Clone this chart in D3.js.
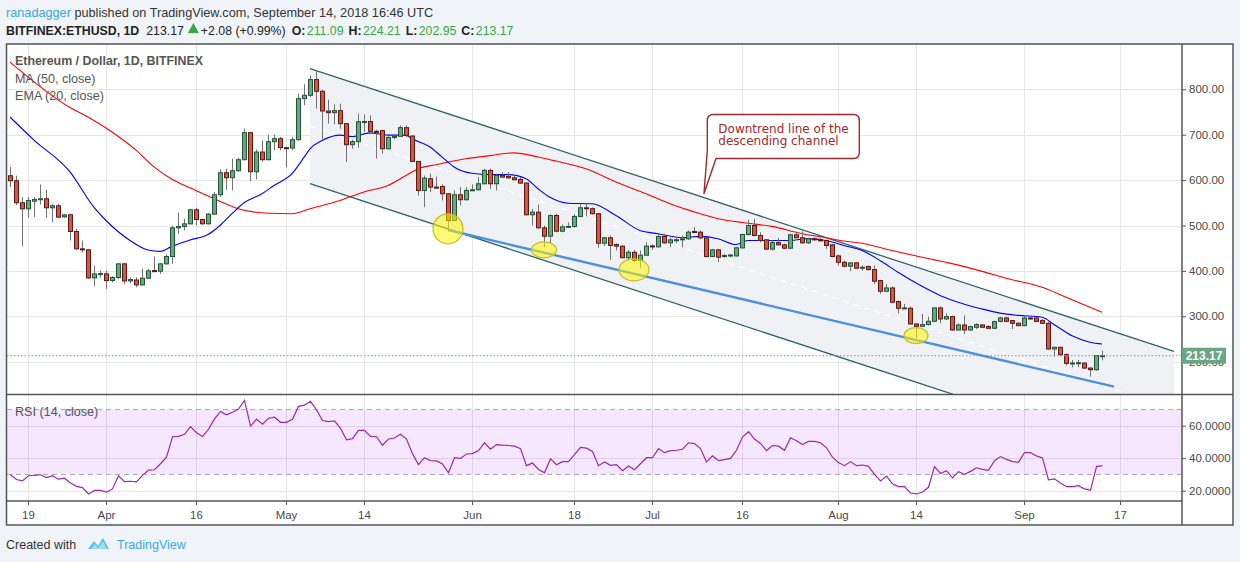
<!DOCTYPE html>
<html><head><meta charset="utf-8">
<script src="https://cdn.jsdelivr.net/npm/d3@7"></script>
<style>
html,body{margin:0;padding:0;background:#f0f3f7;}
svg{display:block;font-family:"Liberation Sans",Arial,sans-serif;}
</style></head><body>
<svg id="c" width="1240" height="562"></svg>
<script>
// ---------------- DATA ----------------
const startDate = "2018-03-16";
const opens = [609.6,598.6,550.1,536.8,553.5,556.7,558.9,539.0,543.4,519.0,523.6,486.8,448.6,446.4,384.6,392.0,393.5,378.8,385.4,415.5,378.0,380.0,369.2,383.9,400.6,399.3,415.5,431.7,494.9,497.9,503.7,534.6,513.3,503.7,525.0,567.7,616.2,605.2,620.6,644.9,704.5,618.4,661.8,644.9,684.6,691.2,671.4,670.7,689.0,779.4,786.8,821.4,795.6,752.2,748.6,753.0,724.3,678.0,684.6,728.7,729.0,707.4,708.9,669.1,694.1,696.4,715.5,697.1,641.2,577.2,603.0,584.6,586.0,569.9,511.0,567.7,556.7,577.2,578.7,591.9,621.4,591.9,610.3,608.0,605.0,601.5,593.4,523.6,529.4,494.9,476.5,522.0,487.5,497.0,497.8,520.0,539.0,537.0,526.0,461.0,473.0,458.0,454.5,429.0,441.0,423.0,434.6,455.0,453.0,475.8,461.8,468.0,468.4,470.6,486.8,485.3,472.8,431.7,446.4,431.7,433.0,433.0,450.8,480.2,500.0,478.0,468.4,447.9,462.5,457.4,450.0,479.5,473.0,461.8,470.6,468.4,467.0,457.4,433.0,419.0,410.3,417.7,406.0,409.6,403.0,378.8,355.2,362.5,332.4,317.7,317.7,283.1,278.0,281.7,289.0,318.5,294.2,299.3,269.9,280.9,269.9,275.8,280.9,277.3,273.6,289.0,296.4,290.5,284.6,279.5,296.4,296.4,290.5,284.6,228.0,231.7,215.5,197.0,197.0,197.0,186.0,182.4,211.09];
const highs = [628.8,609.6,562.6,562.6,562.6,590.5,578.7,547.9,547.9,525.8,525.8,492.7,467.0,448.6,411.8,400.8,400.8,388.3,417.0,417.7,386.0,386.0,404.5,404.5,431.7,417.0,435.4,500.0,528.0,514.8,536.8,539.0,514.8,527.3,573.6,623.6,625.0,647.1,649.3,713.3,706.0,667.0,687.6,700.0,700.0,695.0,672.8,695.0,790.5,811.0,830.0,842.0,799.3,777.2,766.9,768.4,725.8,689.0,746.3,744.9,742.7,711.0,711.0,696.4,700.0,720.6,720.6,698.6,642.0,610.0,614.0,608.0,590.5,571.0,577.2,584.6,584.6,590.5,606.6,625.0,625.0,614.0,617.7,617.7,610.0,606.6,594.9,536.8,546.4,500.0,524.3,525.8,502.0,507.0,525.0,549.0,549.0,540.0,527.0,475.0,478.0,461.0,457.0,446.0,446.0,445.0,463.0,458.0,481.7,481.7,473.0,474.3,478.0,489.0,496.4,489.0,473.0,448.6,448.6,437.0,437.0,452.3,481.7,512.6,514.8,485.3,470.0,467.0,472.8,460.0,481.7,485.3,486.8,473.0,474.0,472.8,468.4,459.0,436.0,422.8,419.0,419.0,412.0,412.0,412.0,380.2,371.4,365.5,334.6,327.3,321.4,284.6,305.2,299.3,319.9,321.4,306.7,301.5,284.6,301.5,279.5,284.6,283.0,280.0,290.5,299.3,299.3,292.0,286.8,301.5,297.8,299.3,294.0,286.8,233.2,233.2,218.4,203.7,203.7,198.6,187.5,214.8,224.21];
const lows = [584.6,544.9,454.5,517.0,518.5,546.4,517.0,507.4,516.2,517.0,467.0,446.4,441.2,382.4,366.2,385.0,360.3,375.0,382.4,371.4,372.9,364.0,367.0,382.0,399.0,393.5,414.0,415.5,481.7,489.0,502.3,500.0,502.3,502.3,523.6,562.6,578.7,577.3,618.0,643.5,597.9,601.5,641.0,643.5,665.5,665.5,628.8,665.5,687.0,765.0,783.0,757.4,689.0,724.3,722.8,713.3,639.7,669.0,671.4,705.9,700.8,647.0,658.0,666.9,690.0,694.9,694.0,639.7,566.0,540.5,573.6,581.0,555.0,492.7,509.0,544.0,555.2,575.8,577.2,590.5,580.9,577.2,605.0,603.0,599.3,592.0,522.0,500.0,492.7,452.0,461.0,485.0,485.0,496.0,495.0,518.0,520.0,524.0,451.0,455.0,424.0,445.0,428.0,423.0,419.0,406.7,434.0,446.0,452.0,459.6,452.0,461.0,452.0,468.4,483.0,470.0,430.0,430.0,419.0,429.0,430.0,431.7,448.6,478.0,476.0,463.0,446.0,445.0,456.0,447.9,448.6,472.0,459.6,459.6,466.0,465.0,448.6,430.0,411.8,408.0,399.3,404.0,400.0,400.8,371.4,349.3,353.0,328.7,306.7,316.2,281.7,252.2,277.3,280.0,286.8,284.6,292.0,268.4,268.4,261.0,268.4,272.0,274.3,272.0,272.0,286.8,286.8,272.0,278.0,278.0,292.0,286.8,283.0,226.5,211.0,213.3,191.2,187.5,187.5,183.9,167.0,180.2,202.95];
const closes = [598.6,550.1,536.8,555.2,557.4,558.9,539.0,543.4,518.4,523.4,486.8,448.6,446.4,384.6,393.5,394.0,378.8,385.4,415.5,378.0,381.0,369.2,383.9,400.0,399.5,415.5,431.7,494.9,497.9,503.7,534.6,513.3,503.7,525.0,567.7,616.2,605.2,620.6,644.9,704.5,618.4,661.8,644.9,684.6,691.2,671.4,670.0,689.0,779.4,786.8,821.4,795.6,752.2,748.6,753.0,724.3,678.0,684.6,728.7,729.0,707.4,707.0,669.1,694.1,696.4,715.5,698.6,641.2,577.2,604.4,584.6,584.0,569.9,511.0,567.7,556.7,577.2,578.7,591.9,621.4,591.9,610.3,606.6,605.0,600.8,593.4,523.6,529.4,494.9,476.5,522.0,487.5,497.0,498.0,520.0,539.0,537.0,526.0,461.0,473.0,456.0,454.5,429.0,441.0,423.0,434.6,454.5,453.0,475.8,461.8,468.4,468.7,470.6,485.3,485.3,472.8,431.7,446.4,430.2,434.0,435.0,450.8,480.2,500.0,478.0,467.0,447.9,462.5,457.4,450.0,479.5,473.0,461.8,470.6,468.4,467.0,456.0,431.7,419.0,410.3,417.7,406.0,408.0,403.0,377.3,355.2,362.5,331.0,317.7,318.5,283.1,278.0,281.7,289.0,318.5,294.2,299.3,269.9,280.9,269.9,277.3,281.7,275.8,273.6,288.3,296.4,289.0,284.6,279.5,296.4,294.2,289.0,284.6,228.0,231.7,215.5,196.4,197.2,197.7,186.0,182.4,213.3,213.17];
const rsiValues = [29.8,26.9,26,29.2,29.4,29.8,28.1,29.2,27.1,27.7,24.8,22.7,21.9,18,20.2,20.2,19.2,21.1,29.2,25.6,25.8,25.4,29.4,32.7,32.9,36.6,40.6,53.2,53.4,54.7,59.4,55.7,53.4,57.8,64.2,68.8,66.7,68.3,70.2,75.6,59.8,64,60.9,64.6,65.2,62.1,62.1,64,71.9,72.7,75,69.8,63.2,62.5,63,58.4,51.3,52,57.1,57.1,53.4,53.2,48,51.8,52.4,54.7,51.8,42.8,36,40.3,38.5,38.3,36.4,31,40.3,39.9,42.6,42.8,44.7,49.5,45.5,48.4,48,47.8,47.4,45.9,35.4,37,33.1,31,39.7,36,37.9,37.9,42.2,46.6,46.2,44.1,35.4,37.7,35.6,36,32.3,35.2,32.9,36.6,40.3,40.3,45.9,43.4,44.7,44.9,45.5,49.5,49,45.9,37.7,41.4,38.5,39.1,39.9,44.9,53,56.3,51.8,49.1,44.7,47.8,47.4,44.9,52.6,50.7,48.4,50.3,50.3,49.5,46.4,40.6,37.3,35.4,37.9,35.4,35.8,35,30,26,29,24.2,22.5,22.5,18.6,18,19.2,22.1,34.8,30.6,32.3,27.9,31.7,30,31.9,34.1,33.1,32.5,38.5,41,39.3,37.9,37.5,43.5,43.4,41.4,40.2,26.7,27.3,24.8,22.5,22.5,23.1,21.1,20.2,34.8,35.4];
// EMA(20) and MA(50) at these candle indices
const emaIdx = [0,4,10,14,16,20,23,25,27,30,33,35,37,39,42,44,47,49,50,52,55,57,60,63,66,67,70,72,74,77,80,83,86,88,90,93,97,101,105,108,112,115,118,121,123,126,130,133,136,139,142,145,148,152,155,158,162,165,168,172,174,177,180,182];
const emaValues = [739,688,618,540,511,467,446,443,454,468,480,500,526,550,570,588,614,650,669,687,699,696,704,699,699,691,673,651,629,615,612,612,603,581,562,549,548,522,489,482,473,476,471,458,467,467,467,471,467,456,445,423,397,366,346,331,316,307,302,298,282,257,243,239];
const maIdx = [0,10,13,17,21,24,27,30,34,38,43,47,50,55,59,63,66,68,71,76,80,84,88,91,96,101,106,110,114,118,123,127,132,136,139,142,147,152,157,162,166,172,176,182];
const maValues = [860,760,739,706,666,629,602,583,559,537,527,526,537,555,574,588,610,625,634,647,654,660,651,642,625,596,570,548,530,515,505,498,482,473,466,461,445,430,416,399,384,364,342,309];
const priceTicks = [200,300,400,500,600,700,800];
const rsiTicks = [20,40,60];
const rsiBand = [30,70];
const timeTickDates = ["2018-03-19","2018-04-01","2018-04-16","2018-05-01","2018-05-14","2018-06-01","2018-06-18","2018-07-01","2018-07-16","2018-08-01","2018-08-14","2018-09-01","2018-09-17"];
const timeTickLabels = ["19","Apr","16","May","14","Jun","18","Jul","16","Aug","14","Sep","17"];
// drawings (date, price)
const channelDates = ["2018-05-05","2018-09-26"];
const channelUpper = [845.7,222.5];
const channelLower = [592.0,-31.2];
const supportDates = ["2018-05-28","2018-09-16"];
const supportValues = [490,145];
const markerDates = ["2018-05-28","2018-06-13","2018-06-28","2018-08-14"];
const markerValues = [492.7,446.4,402.3,257.4];
const calloutDate = "2018-07-09T16:00:00Z";
const calloutPrice = 570.5;
const calloutLines = ["Downtrend line of the","descending channel"];
const lastPrice = 213.17;
const quote = {symbol:"BITFINEX:ETHUSD, 1D", last:"213.17", change:"+2.08 (+0.99%)", o:"211.09", h:"224.21", l:"202.95", c:"213.17"};

// ---------------- STYLE / LAYOUT ----------------
const markerRx = [15,12.5,15,12], markerRy = [15,8,11,8];
const L = 7, R = 1182, OUTR = 1233, TOP = 44, PB = 394.5, RT = 395, RB = 501, BOT = 525;
const C = {up:"#6ba583",down:"#d75442",upB:"#225437",downB:"#5b1a13",wick:"#737375",grid:"#e6e6e6",txt:"#4a4a4a"};

const svg = d3.select("#c");
const parse = s => s.length > 10 ? new Date(s) : d3.utcParse("%Y-%m-%d")(s);
const x = d3.scaleUtc().domain([parse("2018-04-01"), parse("2018-09-17")]).range([106, 1120]);
const y = d3.scaleLinear().domain([200, 800]).range([361.7, 89.3]);
const yr = d3.scaleLinear().domain([20, 60]).range([490.7, 425.7]);
const d0 = parse(startDate);
const candles = opens.map((o,i)=>({date:d3.utcDay.offset(d0,i),o,h:highs[i],l:lows[i],c:closes[i],rsi:rsiValues[i]}));

// header
const hdr = svg.append("g").attr("fill","#333");
const t1 = hdr.append("text").attr("x",6).attr("y",17).attr("font-size",12.7);
t1.append("tspan").attr("fill","#3aa8e0").text("ranadagger");
t1.append("tspan").text(" published on TradingView.com, September 14, 2018 16:46 UTC");
const g = "#35a846";
const hl = hdr.append("g").attr("font-size",12.3);
let cx = 6;
const put = (s,opt={}) => {
  const t = hl.append("text").attr("x",cx).attr("y",34.5).attr("font-weight",opt.b?"bold":null).attr("fill",opt.c||"#222").text(s);
  cx += t.node().getComputedTextLength() + (opt.gap||0);
};
put(quote.symbol,{b:1,gap:7});
put(quote.last,{gap:4});
hl.append("path").attr("d",`M${cx},33L${cx+5.5},23L${cx+11},33Z`).attr("fill",g);
cx += 13;
put(quote.change,{gap:6});
[["O:",quote.o],["H:",quote.h],["L:",quote.l],["C:",quote.c]].forEach(([k,v])=>{
  put(k,{b:1,gap:1.5});
  put(v,{c:g,gap:5});
});

// chart background
svg.append("rect").attr("x",L).attr("y",TOP).attr("width",OUTR-L).attr("height",BOT-TOP).attr("fill","#fff");

// clip
const defs = svg.append("defs");
defs.append("clipPath").attr("id","pc").append("rect").attr("x",L).attr("y",TOP).attr("width",R-L).attr("height",PB-TOP);
defs.append("clipPath").attr("id","rc").append("rect").attr("x",L).attr("y",RT).attr("width",R-L).attr("height",RB-RT);

// grids
const gridG = svg.append("g").attr("stroke",C.grid).attr("stroke-width",1);
timeTickDates.forEach(d=>{
  const xx = Math.round(x(parse(d)))+0.5;
  gridG.append("line").attr("x1",xx).attr("x2",xx).attr("y1",TOP).attr("y2",RB);
});
priceTicks.forEach(v=>{
  const yy = Math.round(y(v))+0.5;
  gridG.append("line").attr("x1",L).attr("x2",R).attr("y1",yy).attr("y2",yy);
});
rsiTicks.forEach(v=>{
  const yy = Math.round(yr(v))+0.5;
  gridG.append("line").attr("x1",L).attr("x2",R).attr("y1",yy).attr("y2",yy);
});

// ---- price pane
const P = svg.append("g").attr("clip-path","url(#pc)");
const cd = channelDates.map(parse);
P.append("path")
  .attr("d",`M${x(cd[0])},${y(channelUpper[0])}L${x(cd[1])},${y(channelUpper[1])}L${x(cd[1])},${y(channelLower[1])}L${x(cd[0])},${y(channelLower[0])}Z`)
  .attr("fill","#eff1f4");
P.append("line").attr("x1",x(cd[0])).attr("y1",y((channelUpper[0]+channelLower[0])/2))
  .attr("x2",x(cd[1])).attr("y2",y((channelUpper[1]+channelLower[1])/2))
  .attr("stroke","#fff").attr("stroke-width",1.2).attr("stroke-dasharray","6,5");
[channelUpper,channelLower].forEach(arr=>{
  P.append("line").attr("x1",x(cd[0])).attr("y1",y(arr[0])).attr("x2",x(cd[1])).attr("y2",y(arr[1]))
    .attr("stroke","#2f6467").attr("stroke-width",1.3);
});
const sd = supportDates.map(parse);
P.append("line").attr("x1",x(sd[0])).attr("y1",y(supportValues[0])).attr("x2",x(sd[1])).attr("y2",y(supportValues[1]))
  .attr("stroke","#4a8fe0").attr("stroke-width",2.4);

const lineGen = d3.line().x(d=>x(d3.utcDay.offset(d0,d[0]))).y(d=>y(d[1])).curve(d3.curveMonotoneX);
P.append("path").attr("d",lineGen(maIdx.map((k,i)=>[k,maValues[i]]))).attr("fill","none").attr("stroke","#ff0000").attr("stroke-width",1.1);
P.append("path").attr("d",lineGen(emaIdx.map((k,i)=>[k,emaValues[i]]))).attr("fill","none").attr("stroke","#0000ff").attr("stroke-width",1.1);

// last price dotted line
const yl = y(lastPrice);
svg.append("line").attr("x1",L).attr("x2",R).attr("y1",yl).attr("y2",yl).attr("stroke","#6ba583").attr("stroke-dasharray","1.5,2").attr("stroke-width",1);

// candles
const cg = P.append("g");
candles.forEach(d=>{
  const xc = Math.round(x(d.date));
  const up = d.c >= d.o;
  cg.append("line").attr("x1",xc+0.5).attr("x2",xc+0.5).attr("y1",y(d.h)).attr("y2",y(d.l)).attr("stroke",C.wick).attr("stroke-width",1);
  const top = y(Math.max(d.o,d.c)), bot = y(Math.min(d.o,d.c));
  cg.append("rect").attr("x",xc-1.5).attr("y",top).attr("width",4).attr("height",Math.max(1,bot-top))
    .attr("fill",up?C.up:C.down).attr("stroke",up?C.upB:C.downB).attr("stroke-width",1);
});

// yellow markers
markerDates.forEach((d,i)=>{
  P.append("ellipse").attr("cx",x(parse(d))).attr("cy",y(markerValues[i])).attr("rx",markerRx[i]).attr("ry",markerRy[i])
    .attr("fill","rgba(255,245,0,0.55)").attr("stroke","#c2bd2a").attr("stroke-width",1.2);
});

// callout
const tx = x(parse(calloutDate)), ty = y(calloutPrice);
const bl = tx+3.3, br = tx+155.3, bt = ty-79, bb = ty-35, r = 6;
svg.append("path").attr("d",
  `M${tx},${ty}L${bl},${bb-8}L${bl},${bt+r}Q${bl},${bt} ${bl+r},${bt}L${br-r},${bt}Q${br},${bt} ${br},${bt+r}L${br},${bb-r}Q${br},${bb} ${br-r},${bb}L${tx+12},${bb}Z`)
  .attr("fill","#fff").attr("stroke","#a3282a").attr("stroke-width",1.4).attr("stroke-linejoin","round");
calloutLines.forEach((s,i)=>{
  svg.append("text").attr("x",bl+11).attr("y",bt+19+i*11.7).attr("font-family","DejaVu Sans, sans-serif").attr("font-size",12)
    .attr("fill","#a3282a").text(s);
});

// legend texts
svg.append("text").attr("x",15).attr("y",65).attr("font-size",12.4).attr("font-weight","bold").attr("fill","#555").text("Ethereum / Dollar, 1D, BITFINEX");
svg.append("text").attr("x",15).attr("y",82.5).attr("font-size",12.6).attr("fill","#555").text("MA (50, close)");
svg.append("text").attr("x",15).attr("y",99.5).attr("font-size",12.6).attr("fill","#555").text("EMA (20, close)");

// ---- RSI pane
const RG = svg.append("g").attr("clip-path","url(#rc)");
RG.append("rect").attr("x",L).attr("width",R-L).attr("y",yr(rsiBand[1])).attr("height",yr(rsiBand[0])-yr(rsiBand[1]))
  .attr("fill","rgba(153,21,255,0.1)");
rsiBand.forEach(v=>{
  RG.append("line").attr("x1",L).attr("x2",R).attr("y1",yr(v)).attr("y2",yr(v)).attr("stroke","#a9a9a9").attr("stroke-dasharray","5,4");
});
RG.append("path").attr("d",d3.line().x(d=>Math.round(x(d.date))+0.5).y(d=>yr(d.rsi))(candles))
  .attr("fill","none").attr("stroke","#9c27b0").attr("stroke-width",1.2);
svg.append("text").attr("x",15).attr("y",416).attr("font-size",12.6).attr("fill","#555").text("RSI (14, close)");

// axes / borders
const ax = svg.append("g").attr("stroke","#555").attr("fill","none");
ax.append("rect").attr("x",L-0.5).attr("y",TOP).attr("width",OUTR-L+0.5).attr("height",BOT-TOP).attr("stroke-width",1.5);
ax.append("line").attr("x1",R).attr("x2",R).attr("y1",TOP).attr("y2",BOT).attr("stroke-width",1.5);
ax.append("line").attr("x1",L).attr("x2",OUTR).attr("y1",PB).attr("y2",PB).attr("stroke-width",1.5);
ax.append("line").attr("x1",L).attr("x2",R).attr("y1",RB).attr("y2",RB).attr("stroke-width",1.5);

// price axis
const pa = svg.append("g").attr("transform",`translate(${R},0)`)
  .call(d3.axisRight(y).tickValues(priceTicks).tickFormat(d3.format(".2f")).tickSize(4).tickPadding(3));
pa.select(".domain").remove();
pa.selectAll("line").attr("stroke","#555");
pa.selectAll("text").attr("font-size",11.5).attr("fill",C.txt).attr("font-family","Liberation Sans, Arial, sans-serif");
const ra = svg.append("g").attr("transform",`translate(${R},0)`)
  .call(d3.axisRight(yr).tickValues(rsiTicks).tickFormat(d3.format(".4f")).tickSize(4).tickPadding(3));
ra.select(".domain").remove();
ra.selectAll("line").attr("stroke","#555");
ra.selectAll("text").attr("font-size",11.5).attr("fill",C.txt).attr("font-family","Liberation Sans, Arial, sans-serif");

// time axis
const ta = svg.append("g").attr("transform",`translate(0,${RB})`)
  .call(d3.axisBottom(x).tickValues(timeTickDates.map(parse)).tickFormat((d,i)=>timeTickLabels[i]).tickSize(4).tickPadding(6));
ta.select(".domain").remove();
ta.selectAll("line").attr("stroke","#555");
ta.selectAll("text").attr("font-size",11.5).attr("fill",C.txt).attr("font-family","Liberation Sans, Arial, sans-serif");

// last price label (drawn over the 200.00 tick label, as in the original)
svg.append("rect").attr("x",R).attr("y",yl-8).attr("width",44).attr("height",16).attr("fill","#6aa683");
svg.append("text").attr("x",R+22).attr("y",yl+4.5).attr("text-anchor","middle").attr("font-size",12).attr("font-weight","bold").attr("fill","#fff").text(lastPrice.toFixed(2));

// footer
svg.append("text").attr("x",6).attr("y",549).attr("font-size",12.5).attr("fill","#333").text("Created with");
const logo = svg.append("g").attr("transform","translate(88,537)");
logo.append("path").attr("d","M0,12 L6,4 L10,9 L15,1 L21,12 Z").attr("fill","#5bbde8");
logo.append("path").attr("d","M3,12 L7,7 L10,11 L15,4 L19,12 Z").attr("fill","#9fdaf5");
svg.append("text").attr("x",117).attr("y",549).attr("font-size",12.5).attr("fill","#3aa8e0").text("TradingView");
</script>
</body></html>
